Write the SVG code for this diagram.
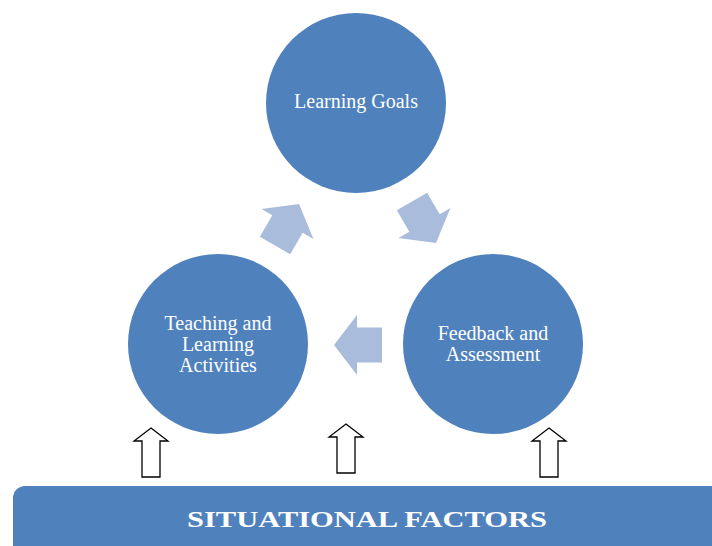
<svg xmlns="http://www.w3.org/2000/svg" xmlns:xlink="http://www.w3.org/1999/xlink" width="712" height="546" viewBox="0 0 712 546">
<style>
.node{fill:#4F81BD}
.lbl{font-family:"Liberation Serif","Times New Roman",serif;font-size:20px;fill:#FFFFFF;text-anchor:middle}
.cyc{fill:#A9BCDB}
.up{fill:#FFFFFF;stroke:#000000;stroke-width:1.3;stroke-linejoin:miter}
.bar{font-family:"Liberation Serif","Times New Roman",serif;font-size:24px;font-weight:bold;fill:#FFFFFF}
</style>
<defs>
<path id="blk" d="M0,0 L-23,-30 L-23,-17.5 L-48,-17.5 L-48,17.5 L-23,17.5 L-23,30 Z"/>
<path id="upa" d="M0,0 L17,13 L9,13 L9,49 L-9,49 L-9,13 L-17,13 Z"/>
</defs>
<rect width="712" height="546" fill="#FFFFFF"/>
<g id="connectors">
<use xlink:href="#blk" href="#blk" class="cyc" transform="translate(299,204) rotate(-60)"/>
<use xlink:href="#blk" href="#blk" class="cyc" transform="translate(436,243) rotate(60)"/>
<use xlink:href="#blk" href="#blk" class="cyc" transform="translate(334,345) rotate(180)"/>
<use xlink:href="#upa" href="#upa" class="up" transform="translate(151,428)"/>
<use xlink:href="#upa" href="#upa" class="up" transform="translate(346,424)"/>
<use xlink:href="#upa" href="#upa" class="up" transform="translate(549,428)"/>
</g>
<g id="learning-goals">
<circle class="node" cx="356" cy="103" r="90"/>
<text class="lbl" x="356" y="108">Learning Goals</text>
</g>
<g id="teaching-learning-activities">
<circle class="node" cx="218" cy="344" r="90"/>
<text class="lbl" x="218" y="330">Teaching and</text>
<text class="lbl" x="218" y="351">Learning</text>
<text class="lbl" x="218" y="372">Activities</text>
</g>
<g id="feedback-assessment">
<circle class="node" cx="493" cy="344" r="90"/>
<text class="lbl" x="493" y="340">Feedback and</text>
<text class="lbl" x="493" y="361">Assessment</text>
</g>
<g id="situational-factors">
<rect class="node" x="13" y="486" width="730" height="90" rx="12" ry="12"/>
<text class="bar" x="187" y="527" textLength="360" lengthAdjust="spacingAndGlyphs">SITUATIONAL FACTORS</text>
</g>
</svg>
